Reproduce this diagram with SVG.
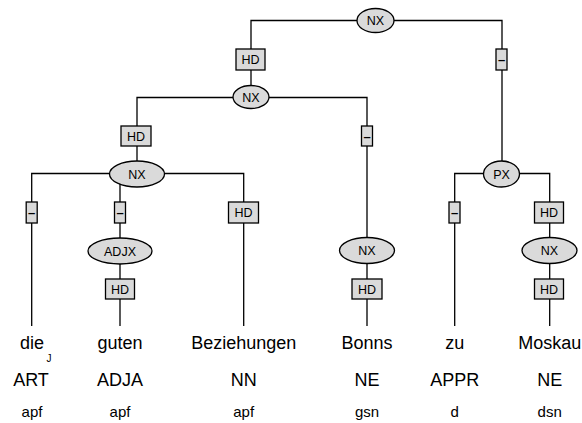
<svg xmlns="http://www.w3.org/2000/svg" width="582" height="423" viewBox="0 0 582 423">
<style>
.e{fill:#dadada;stroke:#000;stroke-width:1.3}
.b{fill:#dadada;stroke:#000;stroke-width:1.3}
.c{fill:none;stroke:#000;stroke-width:1.3}
.l{font-family:"Liberation Sans",Arial,sans-serif;font-size:12.5px;text-anchor:middle;fill:#000}
.d{font-family:"Liberation Sans",Arial,sans-serif;font-size:13px;font-weight:bold;text-anchor:middle;fill:#000}
.w{font-family:"Liberation Sans",Arial,sans-serif;font-size:18px;text-anchor:middle;fill:#000}
.m{font-family:"Liberation Sans",Arial,sans-serif;font-size:15px;text-anchor:middle;fill:#000}
</style>
<rect width="582" height="423" fill="#fff"/>
<g id="connectors">
<path class="c" d="M251,49 V20.5 H502 V161"/>
<path class="c" d="M251,70 V86"/>
<path class="c" d="M137,126 V97.5 H367 V326"/>
<path class="c" d="M137,146 V161"/>
<path class="c" d="M31.7,326 V173.5 H243.7 V326"/>
<path class="c" d="M120,173.5 V326"/>
<path class="c" d="M454.7,326 V173.5 H549.7 V326"/>
</g>
<g id="nx_top"><ellipse class="e" cx="375.5" cy="20.5" rx="18.5" ry="12"/><text class="l" x="375.5" y="25">NX</text></g>
<g id="hd_1"><rect class="b" x="236" y="49" width="29" height="21"/><text class="l" x="250.5" y="64">HD</text></g>
<g id="dash_1"><rect class="b" x="496" y="49" width="11" height="21"/><text class="d" x="501.5" y="64">–</text></g>
<g id="nx_2"><ellipse class="e" cx="251" cy="97" rx="18" ry="11.5"/><text class="l" x="251" y="101.5">NX</text></g>
<g id="hd_2"><rect class="b" x="121" y="126" width="30" height="20"/><text class="l" x="136" y="140.5">HD</text></g>
<g id="dash_2"><rect class="b" x="361.5" y="126" width="11" height="20"/><text class="d" x="367" y="140.5">–</text></g>
<g id="nx_3"><ellipse class="e" cx="137" cy="174" rx="27.5" ry="13"/><text class="l" x="137" y="178.5">NX</text></g>
<g id="px"><ellipse class="e" cx="501.5" cy="174" rx="18" ry="13"/><text class="l" x="501.5" y="178.5">PX</text></g>
<g id="dash_3"><rect class="b" x="26.2" y="202" width="11" height="21"/><text class="d" x="31.7" y="217">–</text></g>
<g id="dash_4"><rect class="b" x="114.5" y="202" width="11" height="21"/><text class="d" x="120" y="217">–</text></g>
<g id="hd_3"><rect class="b" x="228.5" y="202" width="30" height="21"/><text class="l" x="243.5" y="217">HD</text></g>
<g id="dash_5"><rect class="b" x="449" y="202" width="11" height="21"/><text class="d" x="454.5" y="217">–</text></g>
<g id="hd_4"><rect class="b" x="534.5" y="202" width="29" height="21"/><text class="l" x="549" y="217">HD</text></g>
<g id="adjx"><ellipse class="e" cx="120" cy="251" rx="32" ry="13"/><text class="l" x="120" y="255.5">ADJX</text></g>
<g id="nx_bonns"><ellipse class="e" cx="367" cy="250.5" rx="27.5" ry="13"/><text class="l" x="367" y="255">NX</text></g>
<g id="nx_moskau"><ellipse class="e" cx="549.5" cy="250.5" rx="27.5" ry="13"/><text class="l" x="549.5" y="255">NX</text></g>
<g id="hd_5"><rect class="b" x="105.5" y="279" width="29" height="20"/><text class="l" x="120" y="293.5">HD</text></g>
<g id="hd_6"><rect class="b" x="352" y="279" width="30" height="20"/><text class="l" x="367" y="293.5">HD</text></g>
<g id="hd_7"><rect class="b" x="534.5" y="279" width="29" height="20"/><text class="l" x="549" y="293.5">HD</text></g>
<g id="w_die"><text class="w" x="32" y="349">die</text><text class="w" x="31" y="386">ART</text><text class="m" x="32" y="417">apf</text></g>
<text x="49" y="362" font-family="Liberation Sans, sans-serif" font-size="10" text-anchor="middle" fill="#000">J</text>
<g id="w_guten"><text class="w" x="120" y="349">guten</text><text class="w" x="120" y="386">ADJA</text><text class="m" x="120" y="417">apf</text></g>
<g id="w_bez"><text class="w" x="243.7" y="349">Beziehungen</text><text class="w" x="243.7" y="386">NN</text><text class="m" x="243.7" y="417">apf</text></g>
<g id="w_bonns"><text class="w" x="367" y="349">Bonns</text><text class="w" x="367" y="386">NE</text><text class="m" x="367" y="417">gsn</text></g>
<g id="w_zu"><text class="w" x="454.7" y="349">zu</text><text class="w" x="454.7" y="386">APPR</text><text class="m" x="454.7" y="417">d</text></g>
<g id="w_moskau"><text class="w" x="549.7" y="349">Moskau</text><text class="w" x="549.7" y="386">NE</text><text class="m" x="549.7" y="417">dsn</text></g>
</svg>
